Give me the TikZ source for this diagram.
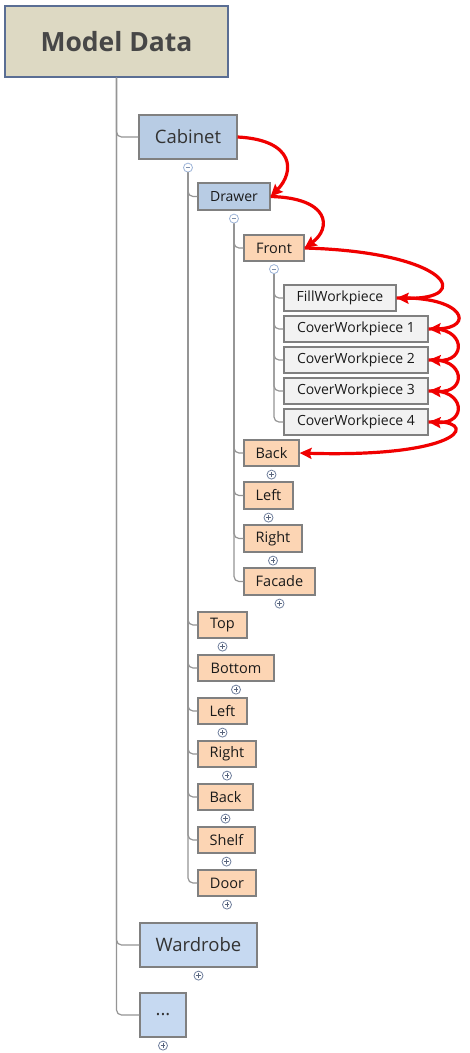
\documentclass[tikz,border=0pt]{standalone}
\usepackage{fontspec}
\setmainfont{Open Sans}
\usetikzlibrary{arrows.meta}
\definecolor{topfill}{HTML}{DDD9C3}
\definecolor{topdraw}{HTML}{5A6E94}
\definecolor{bluefill}{HTML}{B8CCE4}
\definecolor{lbluefill}{HTML}{C6D9F1}
\definecolor{orfill}{HTML}{FCD5B4}
\definecolor{grfill}{HTML}{F2F2F2}
\definecolor{boxdraw}{HTML}{808080}
\definecolor{conncol}{HTML}{959595}
\definecolor{txtcol}{HTML}{1A1A1A}
\definecolor{minuscol}{HTML}{9DB4D8}
\definecolor{pluscol}{HTML}{6F7E9C}
\definecolor{arrred}{HTML}{F00000}
\newcommand\mkbox[7]{%
  \pgfmathsetmacro\mybw{#4-#2}\pgfmathsetmacro\mybh{#5-#3}%
  \node[#7, minimum width=\mybw pt, minimum height=\mybh pt] (#1) at ({(#2+#4)/2},{(#3+#5)/2}) {#6};}
\begin{document}
\begin{tikzpicture}[x=1pt,y=-1pt,
  basebox/.style={draw=boxdraw, line width=1.2pt, inner sep=0pt, text=txtcol},
  topbox/.style={basebox, fill=topfill, draw=topdraw, font=\fontsize{26.5}{30}\selectfont\bfseries, text=black!72},
  bigblue/.style={basebox, fill=bluefill, font=\fontsize{18.5}{22}\selectfont, text=black!80},
  lblue/.style={basebox, fill=lbluefill, font=\fontsize{18.5}{22}\selectfont, text=black!80},
  smblue/.style={basebox, fill=bluefill, font=\fontsize{14}{17}\selectfont},
  orbox/.style={basebox, fill=orfill, font=\fontsize{14.5}{17}\selectfont},
  grbox/.style={basebox, fill=grfill, font=\fontsize{14}{17}\selectfont},
  conn/.style={draw=conncol, line width=1.2pt, rounded corners=5pt},
  redarr/.style={draw=arrred, line width=3.2pt, -{Stealth[length=12pt,width=11pt,inset=2pt]}},
  minus/.style={circle, draw=minuscol, fill=white, minimum size=9pt, inner sep=0pt, line width=0.8pt,
    path picture={\draw[draw=minuscol!80!black, line width=0.9pt] ([xshift=2.3pt]path picture bounding box.west) -- ([xshift=-2.3pt]path picture bounding box.east);}},
  plus/.style={circle, draw=pluscol, fill=white, minimum size=9pt, inner sep=0pt, line width=0.8pt,
    path picture={\draw[draw=pluscol!80!black, line width=0.9pt] ([xshift=2.3pt]path picture bounding box.west) -- ([xshift=-2.3pt]path picture bounding box.east)
      ([yshift=2.3pt]path picture bounding box.south) -- ([yshift=-2.3pt]path picture bounding box.north);}}
]
\useasboundingbox (0,0) rectangle (469,1053);
\fill[white] (0,0) rectangle (469,1053);

% boxes
\mkbox{model}{5}{6}{228}{77}{Model Data}{topbox}
\mkbox{cab}{139}{115}{237}{159}{Cabinet}{bigblue}
\mkbox{drawer}{198}{183}{270}{210}{Drawer}{smblue}
\mkbox{front}{244}{235}{304}{261}{Front}{orbox}
\mkbox{fillw}{284}{285}{396}{311}{FillWorkpiece}{grbox}
\mkbox{cwa}{284}{316}{428}{342}{CoverWorkpiece 1}{grbox}
\mkbox{cwb}{284}{347}{428}{373}{CoverWorkpiece 2}{grbox}
\mkbox{cwc}{284}{378}{428}{404}{CoverWorkpiece 3}{grbox}
\mkbox{cwd}{284}{409}{428}{435}{CoverWorkpiece 4}{grbox}
\mkbox{dback}{244}{440}{299}{466}{Back}{orbox}
\mkbox{dleft}{244}{482}{293}{509}{Left}{orbox}
\mkbox{dright}{244}{525}{302}{552}{Right}{orbox}
\mkbox{dfacade}{244}{568}{315}{595}{Facade}{orbox}
\mkbox{ctop}{198}{612}{247}{638}{Top}{orbox}
\mkbox{cbottom}{198}{655}{274}{681}{Bottom}{orbox}
\mkbox{cleft}{198}{698}{247}{724}{Left}{orbox}
\mkbox{cright}{198}{741}{256}{767}{Right}{orbox}
\mkbox{cback}{198}{784}{253}{810}{Back}{orbox}
\mkbox{cshelf}{198}{827}{255}{853}{Shelf}{orbox}
\mkbox{cdoor}{198}{870}{256}{896}{Door}{orbox}
\mkbox{ward}{140}{923}{257}{967}{Wardrobe}{lblue}
\mkbox{dots}{140}{993}{186}{1037}{...}{lblue}

% expand / collapse markers
\node[minus] (mcab) at ([yshift=-8pt]cab.south) {};
\node[minus] (mdrawer) at ([yshift=-8pt]drawer.south) {};
\node[minus] (mfront) at ([yshift=-7.5pt]front.south) {};
\foreach \n in {dback,dleft,dright,dfacade,ctop,cbottom,cleft,cright,cback,cshelf,cdoor,ward,dots}
  \node[plus] (p\n) at ([yshift=-8pt]\n.south) {};

% tree connectors
\draw[conn] (model.south) |- (cab.west);
\draw[conn] (model.south) |- (ward.west);
\draw[conn] (model.south) |- (dots.west);
\foreach \n in {drawer,ctop,cbottom,cleft,cright,cback,cshelf,cdoor}
  \draw[conn] (mcab.south) |- (\n.west);
\foreach \n in {front,dback,dleft,dright,dfacade}
  \draw[conn] (mdrawer.south) |- (\n.west);
\foreach \n in {fillw,cwa,cwb,cwc,cwd}
  \draw[conn] (mfront.south) |- (\n.west);

% red sequence arrows
\draw[redarr] (cab.east) .. controls (295,140) and (295,172) .. (drawer.east);
\draw[redarr] (drawer.east) .. controls (330,198) and (332,228) .. (front.east);
\draw[redarr] (front.east) .. controls (450,252) and (475,300) .. (fillw.east);
\draw[redarr] (fillw.east) .. controls (465,296) and (475,328) .. (cwa.east);
\draw[redarr] (cwa.east) .. controls (465,326) and (468,362) .. (cwb.east);
\draw[redarr] (cwb.east) .. controls (465,357) and (468,393) .. (cwc.east);
\draw[redarr] (cwc.east) .. controls (465,388) and (468,424) .. (cwd.east);
\draw[redarr] (cwd.east) .. controls (480,418) and (470,458) .. (dback.east);
\end{tikzpicture}
\end{document}
